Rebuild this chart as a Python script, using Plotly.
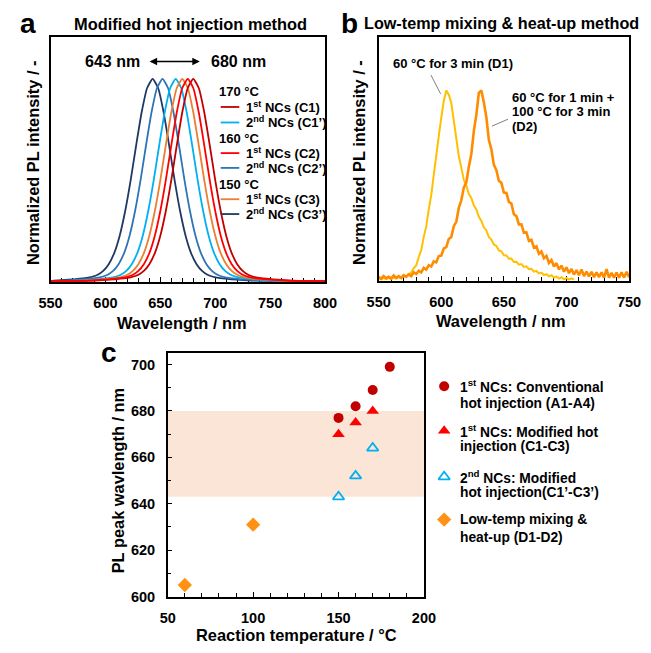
import plotly.graph_objects as go

W, H = 651, 653
FONT = "Liberation Sans, Arial, sans-serif"


def px(x):
    return x / W


def py(y):
    return 1 - y / H


# ---------------- Panel a: modified hot injection PL spectra ----------------
pl_profile = [0, 0.003, 0.006, 0.010, 0.016, 0.022, 0.032, 0.051, 0.084, 0.139, 0.225, 0.347,
              0.500, 0.672, 0.835, 0.955, 1.000, 0.955, 0.835, 0.672, 0.500, 0.347, 0.225,
              0.139, 0.084, 0.051, 0.032, 0.022, 0.016, 0.010, 0.006, 0.003, 0]

wl_C3p = [550, 553, 563, 573, 583, 588, 593, 598, 603, 608, 613, 618, 623, 628, 633, 638, 643,
          648, 653, 658, 663, 668, 673, 678, 683, 688, 693, 698, 703, 713, 723, 733, 800]
wl_C2p = [550, 562, 572, 582, 592, 597, 602, 607, 612, 617, 622, 627, 632, 637, 642, 647, 652,
          657, 662, 667, 672, 677, 682, 687, 692, 697, 702, 707, 712, 722, 732, 742, 800]
wl_C1p = [550, 574, 584, 594, 604, 609, 614, 619, 624, 629, 634, 639, 644, 649, 654, 659, 664,
          669, 674, 679, 684, 689, 694, 699, 704, 709, 714, 719, 724, 734, 744, 754, 800]
wl_C3 = [550, 580, 590, 600, 610, 615, 620, 625, 630, 635, 640, 645, 650, 655, 660, 665, 670,
         675, 680, 685, 690, 695, 700, 705, 710, 715, 720, 725, 730, 740, 750, 760, 800]
wl_C2 = [550, 585, 595, 605, 615, 620, 625, 630, 635, 640, 645, 650, 655, 660, 665, 670, 675,
         680, 685, 690, 695, 700, 705, 710, 715, 720, 725, 730, 735, 745, 755, 765, 800]
wl_C1 = [550, 590, 600, 610, 620, 625, 630, 635, 640, 645, 650, 655, 660, 665, 670, 675, 680,
         685, 690, 695, 700, 705, 710, 715, 720, 725, 730, 735, 740, 750, 760, 770, 800]

series_a = [
    ("C3'", wl_C3p, "#1F3864"),
    ("C2'", wl_C2p, "#2E75B6"),
    ("C1'", wl_C1p, "#00B0F0"),
    ("C3", wl_C3, "#ED7D31"),
    ("C1", wl_C1, "#C00000"),
    ("C2", wl_C2, "#FF0000"),
]

legend_a = [
    ("170 °C", None),
    ("1<sup>st</sup> NCs (C1)", "#C00000"),
    ("2<sup>nd</sup> NCs (C1’)", "#00B0F0"),
    ("160 °C", None),
    ("1<sup>st</sup> NCs (C2)", "#FF0000"),
    ("2<sup>nd</sup> NCs (C2’)", "#2E75B6"),
    ("150 °C", None),
    ("1<sup>st</sup> NCs (C3)", "#ED7D31"),
    ("2<sup>nd</sup> NCs (C3’)", "#1F3864"),
]
legend_a_y = [92.7, 108.3, 124, 140, 155, 170, 186.7, 201.7, 216.7]

# ---------------- Panel b: low-temp mixing & heat-up spectra ----------------
wl_D1 = list(range(550, 707, 2))
int_D1 = [0.014, 0.007, 0.016, 0.009, 0.016, 0.009, 0.018, 0.012, 0.019, 0.014,
          0.024, 0.022, 0.037, 0.042, 0.067, 0.081, 0.125, 0.161, 0.230, 0.286,
          0.375, 0.451, 0.555, 0.646, 0.760, 0.856, 0.945, 1.000, 0.978, 0.934,
          0.836, 0.735, 0.656, 0.595, 0.531, 0.500, 0.456, 0.435, 0.396, 0.375,
          0.336, 0.315, 0.281, 0.265, 0.231, 0.217, 0.191, 0.183, 0.160, 0.155,
          0.134, 0.133, 0.116, 0.117, 0.099, 0.100, 0.085, 0.088, 0.073, 0.076,
          0.061, 0.063, 0.048, 0.052, 0.039, 0.043, 0.030, 0.035, 0.023, 0.029,
          0.017, 0.023, 0.012, 0.019, 0.008, 0.015, 0.006, 0.013, 0.006]

wl_D2 = list(range(550, 751, 2))
int_D2 = [0.021, 0.011, 0.025, 0.014, 0.021, 0.012, 0.028, 0.016, 0.025, 0.015,
          0.030, 0.021, 0.034, 0.025, 0.045, 0.036, 0.053, 0.044, 0.068, 0.059,
          0.082, 0.075, 0.102, 0.097, 0.130, 0.132, 0.170, 0.177, 0.220, 0.230,
          0.287, 0.310, 0.383, 0.423, 0.490, 0.517, 0.599, 0.665, 0.787, 0.872,
          0.988, 1.000, 0.938, 0.860, 0.741, 0.691, 0.610, 0.582, 0.526, 0.515,
          0.464, 0.462, 0.415, 0.406, 0.350, 0.340, 0.296, 0.297, 0.253, 0.254,
          0.209, 0.215, 0.174, 0.181, 0.142, 0.154, 0.119, 0.131, 0.094, 0.109,
          0.075, 0.093, 0.060, 0.080, 0.048, 0.071, 0.040, 0.062, 0.033, 0.056,
          0.029, 0.059, 0.025, 0.048, 0.023, 0.047, 0.019, 0.044, 0.019, 0.045,
          0.017, 0.061, 0.017, 0.042, 0.016, 0.044, 0.017, 0.045, 0.017, 0.047,
          0.019]

# ---------------- Panel c: PL peak wavelength vs reaction temperature ----------------
conv_T = [150, 160, 170, 180]
conv_wl = [677, 682, 689, 699]
mod1_T = [150, 160, 170]
mod1_wl = [670, 675, 680]
mod2_T = [150, 160, 170]
mod2_wl = [643, 652, 664]
low_T = [60, 100]
low_wl = [605, 631]
band_wl = [643, 680]

legend_c = [
    (dict(symbol="circle", size=10, color="#C00000"),
     ["1<sup>st</sup> NCs: Conventional", "hot injection (A1-A4)"], [391, 408]),
    (dict(symbol="triangle-up", size=11, color="#FF0000"),
     ["1<sup>st</sup> NCs: Modified hot", "injection (C1-C3)"], [436, 452.3]),
    (dict(symbol="triangle-up-open", size=10, color="#00B0F0", line=dict(width=1.8, color="#00B0F0")),
     ["2<sup>nd</sup> NCs: Modified", "hot injection(C1’-C3’)"], [482.7, 498.5]),
    (dict(symbol="diamond", size=11, color="#FF9214"),
     ["Low-temp mixing &", "heat-up (D1-D2)"], [526, 544]),
]

fig = go.Figure()

for name, wl, col in series_a:
    fig.add_trace(go.Scatter(x=wl, y=pl_profile, mode="lines", line=dict(color=col, width=1.8, shape="spline", smoothing=0.5),
                             xaxis="x", yaxis="y", showlegend=False, name=name))

fig.add_trace(go.Scatter(x=wl_D1, y=int_D1, mode="lines", line=dict(color="#FFC000", width=2),
                         xaxis="x2", yaxis="y2", showlegend=False, name="D1"))
fig.add_trace(go.Scatter(x=wl_D2, y=int_D2, mode="lines", line=dict(color="#FF8C00", width=2.6),
                         xaxis="x2", yaxis="y2", showlegend=False, name="D2"))

fig.add_trace(go.Scatter(x=conv_T, y=conv_wl, mode="markers", marker=dict(symbol="circle", size=10, color="#C00000"),
                         xaxis="x3", yaxis="y3", showlegend=False))
fig.add_trace(go.Scatter(x=mod1_T, y=mod1_wl, mode="markers", marker=dict(symbol="triangle-up", size=11, color="#FF0000"),
                         xaxis="x3", yaxis="y3", showlegend=False))
fig.add_trace(go.Scatter(x=mod2_T, y=mod2_wl, mode="markers",
                         marker=dict(symbol="triangle-up-open", size=10, color="#00B0F0", line=dict(width=1.8, color="#00B0F0")),
                         xaxis="x3", yaxis="y3", showlegend=False))
fig.add_trace(go.Scatter(x=low_T, y=low_wl, mode="markers", marker=dict(symbol="diamond", size=11, color="#FF9214"),
                         xaxis="x3", yaxis="y3", showlegend=False))

# legend markers for panel c on a pixel overlay axis
for mk, _, ys in legend_c:
    fig.add_trace(go.Scatter(x=[448.7], y=[ys[0]], mode="markers", marker=mk, xaxis="x4", yaxis="y4",
                             showlegend=False, hoverinfo="skip"))

tickfont = dict(family=FONT, size=14.5, color="black", weight="bold")
common = dict(showline=True, mirror=True, linecolor="black", linewidth=1.5, showgrid=False, zeroline=False)

xa = dict(common, ticks="inside", ticklen=5, tickwidth=1.2, tickcolor="black", tickfont=tickfont,
          minor=dict(ticks="inside", ticklen=4, tickwidth=1, tickcolor="black", showgrid=False),
          layer="below traces", ticklabelstandoff=7)

shapes = []
annotations = []


def text(t, x, y, size, xanchor="center", angle=0, yanchor="middle"):
    annotations.append(dict(text=t, x=px(x), y=py(y), xref="paper", yref="paper", showarrow=False,
                            xanchor=xanchor, yanchor=yanchor, textangle=angle,
                            font=dict(family=FONT, size=size, color="black", weight="bold")))


# panel letters & titles
text("a", 16.7, 23.5, 28)
text("b", 350.7, 23.5, 28)
text("c", 100.4, 356.9, 28)
text("Modified hot injection method", 185, 23.8, 16.4)
text("Low-temp mixing & heat-up method", 508, 22.8, 16.2)

# axis titles
text("Wavelength / nm", 177, 327.3, 16.4)
text("Wavelength / nm", 508, 325, 16.4)
text("Normalized PL intensity / -", 21.7, 164.2, 16.4, angle=-90)
text("Normalized PL intensity / -", 360, 164.2, 16.4, angle=-90)
text("PL peak wavlength / nm", 109.5, 485.8, 16.4, angle=-90)
text("Reaction temperature / °C", 295.1, 643.3, 16.4)

# panel a annotations
text("643 nm", 104.5, 62.7, 16)
text("680 nm", 235.3, 62.7, 16)
annotations.append(dict(x=px(195), y=py(62.3), xref="paper", yref="paper", ax=-51.7, ay=0,
                        axref="pixel", ayref="pixel", showarrow=True, arrowhead=2, arrowside="end+start",
                        arrowsize=1, arrowwidth=1.5, arrowcolor="black", text=""))

for (lbl, col), yy in zip(legend_a, legend_a_y):
    if col is None:
        text(lbl, 213.3, yy, 13, xanchor="left")
    else:
        text(lbl, 240.7, yy, 13, xanchor="left")
        shapes.append(dict(type="line", xref="paper", yref="paper", x0=px(216.7), x1=px(236), y0=py(yy), y1=py(yy),
                           line=dict(color=col, width=1.8)))

# panel b annotations
text("60 °C for 3 min (D1)", 458, 64, 13)
text("60 °C for 1 min +", 516.7, 99, 13, xanchor="left")
text("100 °C for 3 min", 516.7, 112.7, 13, xanchor="left")
text("(D2)", 516.7, 127.7, 13, xanchor="left")
shapes.append(dict(type="line", xref="paper", yref="paper", x0=px(435), y0=py(76), x1=px(445), y1=py(95),
                   line=dict(color="#808080", width=1)))
shapes.append(dict(type="line", xref="paper", yref="paper", x0=px(515), y0=py(120.7), x1=px(498.3), y1=py(127.7),
                   line=dict(color="#808080", width=1)))

# panel c band
shapes.append(dict(type="rect", xref="x3", yref="y3", x0=50, x1=200, y0=band_wl[0], y1=band_wl[1],
                   fillcolor="#FBE5D6", line=dict(width=0), layer="below"))

# panel c legend text
for _, lines, ys in legend_c:
    for t, yy in zip(lines, ys):
        text(t, 462.7, yy, 13.8, xanchor="left")

fig.update_layout(
    width=W, height=H, autosize=False,
    margin=dict(l=0, r=0, t=0, b=0),
    paper_bgcolor="white", plot_bgcolor="rgba(0,0,0,0)",
    showlegend=False,
    xaxis=dict(xa, domain=[px(40), px(325)], range=[550, 800], dtick=50, tick0=550, anchor="y",
               minor=dict(xa["minor"], dtick=10)),
    yaxis=dict(common, domain=[py(285.7), py(37.3)], range=[-0.005, 1.208], showticklabels=False, ticks="", anchor="x"),
    xaxis2=dict(xa, domain=[px(380.7), px(640.7)], range=[550, 750], dtick=50, tick0=550, anchor="y2",
                minor=dict(xa["minor"], dtick=10)),
    yaxis2=dict(common, domain=[py(284.3), py(37.7)], range=[0, 1.28], showticklabels=False, ticks="", anchor="x2"),
    xaxis3=dict(xa, domain=[px(161.7), px(427.7)], range=[50, 200], dtick=50, tick0=50, anchor="y3",
                minor=dict(xa["minor"], dtick=10), layer="above traces"),
    yaxis3=dict(common, domain=[py(604), py(357.3)], range=[600, 705], dtick=20, tick0=600, anchor="x3",
                ticks="inside", ticklen=5, tickwidth=1.2, tickcolor="black", tickfont=tickfont,
                minor=dict(ticks="inside", ticklen=4, tickwidth=1, tickcolor="black", dtick=10, showgrid=False),
                ticklabelstandoff=8),
    xaxis4=dict(domain=[0, 1], range=[0, W], visible=False, anchor="y4", fixedrange=True),
    yaxis4=dict(domain=[0, 1], range=[H, 0], visible=False, anchor="x4", fixedrange=True),
    shapes=shapes,
    annotations=annotations,
)

fig.write_html("out.html", config={"displayModeBar": False},
               post_script="document.body.style.margin='0';document.body.style.overflow='hidden';")
